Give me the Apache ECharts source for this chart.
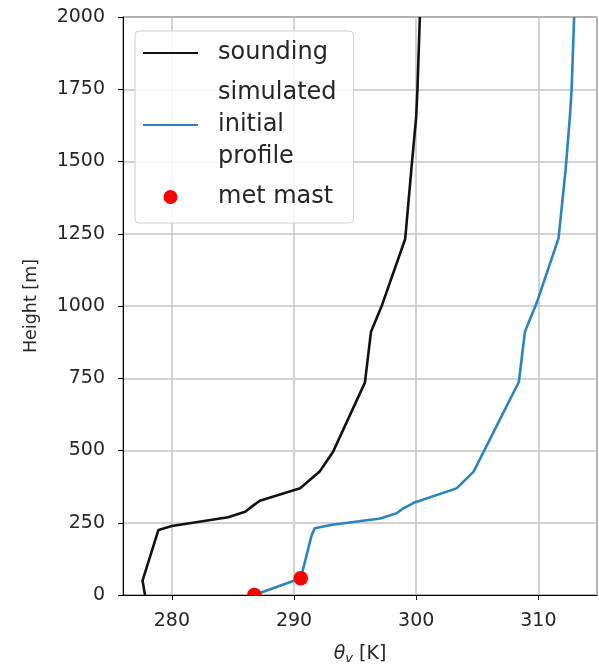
<!DOCTYPE html>
<html>
<head>
<meta charset="utf-8">
<script src="https://cdn.jsdelivr.net/npm/echarts@6/dist/echarts.min.js"></script>
<style>
  html, body { margin: 0; padding: 0; background: #fff; }
  #chart { width: 599px; height: 667px; }
</style>
</head>
<body>
<div id="chart"></div>
<script>
// Virtual potential temperature [K] and height [m] of the radiosonde ascent
const soundingTheta = [277.8, 277.6, 278.9, 280.0, 284.6, 286.0, 286.7, 287.2, 290.5, 292.1, 293.2, 295.8, 296.3, 297.2, 299.1, 299.6, 300.0, 300.1, 300.3];
const soundingHeight = [0, 50, 225, 239, 269, 288, 311, 326, 369, 427, 496, 735, 911, 1003, 1232, 1471, 1655, 1747, 2000];

// Initial profile used by the simulation
const simTheta = [286.75, 290.55, 291.45, 291.7, 293.0, 297.05, 298.4, 298.95, 299.8, 303.3, 304.7, 308.4, 308.9, 309.9, 311.65, 312.23, 312.58, 312.72, 312.93];
const simHeight = [0, 58, 208, 231, 242, 265, 283, 300, 319, 369, 427, 737, 911, 1015, 1234, 1471, 1655, 1747, 2000];

// Met mast observations
const mastTheta = [286.75, 290.55];
const mastHeight = [0, 58];

// Axis settings
const xMin = 276.0, xMax = 314.8;
const yTicks = [0, 250, 500, 750, 1000, 1250, 1500, 1750, 2000];

const seriesNames = ['sounding', 'simulated\ninitial\nprofile', 'met mast'];

const pairs = (xs, ys) => xs.map((x, i) => [x, ys[i]]);

const font = 'DejaVu Sans';
const textColor = '#262626';
const chart = echarts.init(document.getElementById('chart'), null, { renderer: 'canvas' });

chart.setOption({
  backgroundColor: '#ffffff',
  animation: false,
  grid: {
    left: 123, right: 2, top: 17, bottom: 72,
    outerBoundsMode: 'none',
    containLabel: false,
    show: true, borderColor: '#000', borderWidth: 1, backgroundColor: 'transparent'
  },
  legend: {
    orient: 'vertical',
    left: 135, top: 31,
    padding: [6, 17, 10, 7],
    itemGap: 8,
    itemWidth: 55, itemHeight: 14,
    backgroundColor: 'rgba(255,255,255,0.85)',
    borderColor: '#d0d0d0', borderWidth: 1, borderRadius: 4,
    selectedMode: false,
    textStyle: { fontFamily: font, fontSize: 24, color: textColor, lineHeight: 32, padding: [0, 0, 0, 15] },
    data: [
      { name: seriesNames[0], itemStyle: { color: 'transparent', borderWidth: 0 } },
      { name: seriesNames[1], itemStyle: { color: 'transparent', borderWidth: 0 } },
      { name: seriesNames[2], icon: 'circle' }
    ]
  },
  xAxis: {
    type: 'value',
    min: xMin, max: xMax,
    splitNumber: 4,
    name: '{t|θ}{s|v} [K]',
    nameLocation: 'middle',
    nameGap: 49,
    nameTextStyle: {
      fontFamily: font, fontSize: 19, color: textColor,
      rich: {
        t: { fontFamily: font, fontStyle: 'italic', fontSize: 19, color: textColor },
        s: { fontFamily: font, fontStyle: 'italic', fontSize: 13, color: textColor, verticalAlign: 'bottom', padding: [8, 0, 0, 0] }
      }
    },
    axisLine: { show: true, onZero: false, lineStyle: { color: '#000', width: 1 } },
    axisTick: { show: true, length: 5, lineStyle: { color: '#000', width: 1 } },
    axisLabel: { showMinLabel: false, showMaxLabel: false, margin: 17, fontFamily: font, fontSize: 19, color: textColor },
    splitLine: { show: true, lineStyle: { color: '#c4c4c4', width: 1.5 } }
  },
  yAxis: {
    type: 'value',
    min: 0, max: 2000, interval: 250,
    name: 'Height [m]',
    nameLocation: 'middle',
    nameGap: 83,
    nameTextStyle: { fontFamily: font, fontSize: 17.5, color: textColor },
    axisLine: { show: true, onZero: false, lineStyle: { color: '#000', width: 1 } },
    axisTick: { show: true, length: 5, lineStyle: { color: '#000', width: 1 } },
    axisLabel: { margin: 18, fontFamily: font, fontSize: 19, color: textColor,
      formatter: v => (yTicks.includes(v) ? String(v) : '') },
    splitLine: { show: true, lineStyle: { color: '#c4c4c4', width: 1.5 } }
  },
  series: [
    {
      name: seriesNames[0],
      type: 'line',
      data: pairs(soundingTheta, soundingHeight),
      symbol: 'none',
      clip: true,
      color: '#111111',
      lineStyle: { color: '#111111', width: 2.6 },
      z: 3
    },
    {
      name: seriesNames[1],
      type: 'line',
      data: pairs(simTheta, simHeight),
      symbol: 'none',
      clip: true,
      color: '#2a84c2',
      lineStyle: { color: '#2a84c2', width: 2.6 },
      z: 4
    },
    {
      name: seriesNames[2],
      type: 'custom',
      data: pairs(mastTheta, mastHeight),
      encode: { x: 0, y: 1 },
      clip: true,
      itemStyle: { color: '#ff0000' },
      z: 5,
      renderItem: function (params, api) {
        const p = api.coord([api.value(0), api.value(1)]);
        const cs = params.coordSys;
        return {
          type: 'group',
          clipPath: { type: 'rect', shape: { x: cs.x, y: cs.y, width: cs.width, height: cs.height } },
          children: [{
            type: 'circle',
            shape: { cx: p[0], cy: p[1], r: 7.3 },
            style: { fill: '#ff0000' }
          }]
        };
      }
    }
  ]
});
</script>
</body>
</html>
